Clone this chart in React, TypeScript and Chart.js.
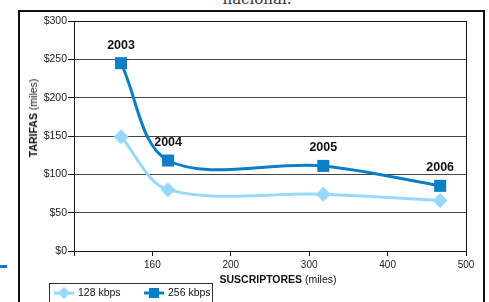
import React, { useEffect, useRef } from "react";
import { Chart, registerables } from "chart.js";

Chart.register(...registerables);

const years = ["2003", "2004", "2005", "2006"];
const subscribers = [144, 168, 318, 467]; // miles
const tarifa128 = [149, 80, 74, 66];
const tarifa256 = [245, 118, 111, 85];
const xTickValues = [120, 160, 200, 300, 400, 500];
const xTickLabels = ["", "160", "200", "300", "400", "500"];
const seriesNames = ["128 kbps", "256 kbps"];

const COLOR_128 = "#99d8fb";
const COLOR_256 = "#0a7fc6";

function toAxisPos(v: number): number {
  for (let i = 0; i < xTickValues.length - 1; i++) {
    const a = xTickValues[i];
    const b = xTickValues[i + 1];
    if (v <= b || i === xTickValues.length - 2) {
      return i + (v - a) / (b - a);
    }
  }
  return 0;
}

const yearLabelPlugin = {
  id: "yearLabels",
  afterDatasetsDraw(chart: any) {
    const ctx = chart.ctx;
    const meta = chart.getDatasetMeta(1);
    ctx.save();
    ctx.font = "bold 12.5px 'Liberation Sans', Arial, sans-serif";
    ctx.fillStyle = "#111";
    ctx.textAlign = "center";
    ctx.textBaseline = "middle";
    meta.data.forEach((pt: any, i: number) => {
      ctx.fillText(years[i], pt.x, pt.y - 18);
    });
    ctx.restore();
  },
  beforeDatasetsDraw(chart: any) {
    const { ctx, chartArea } = chart;
    ctx.save();
    ctx.strokeStyle = "#111";
    ctx.lineWidth = 1;
    ctx.strokeRect(
      Math.round(chartArea.left) + 0.5,
      Math.round(chartArea.top) + 0.5,
      Math.round(chartArea.right - chartArea.left),
      Math.round(chartArea.bottom - chartArea.top)
    );
    ctx.restore();
  },
};

export default function App() {
  const ref = useRef<HTMLCanvasElement>(null);

  useEffect(() => {
    if (!ref.current) return;
    const chart = new Chart(ref.current, {
      type: "line",
      data: {
        datasets: [
          {
            label: seriesNames[0],
            data: subscribers.map((s, i) => ({ x: toAxisPos(s), y: tarifa128[i] })),
            borderColor: COLOR_128,
            backgroundColor: COLOR_128,
            borderWidth: 3,
            pointStyle: "rectRot",
            pointRadius: 7.5,
            pointBorderWidth: 0,
            tension: 0.33,
          },
          {
            label: seriesNames[1],
            data: subscribers.map((s, i) => ({ x: toAxisPos(s), y: tarifa256[i] })),
            borderColor: COLOR_256,
            backgroundColor: COLOR_256,
            borderWidth: 3,
            pointStyle: "rect",
            pointRadius: 8.5,
            pointBorderWidth: 0,
            tension: 0.33,
          },
        ],
      },
      options: {
        animation: false,
        responsive: false,
        maintainAspectRatio: false,
        layout: { padding: { left: 0, right: 23, top: 21, bottom: 0 } },
        plugins: {
          legend: { display: false },
          tooltip: { enabled: false },
        },
        scales: {
          x: {
            type: "linear",
            min: 0,
            max: xTickValues.length - 1,
            afterBuildTicks: (scale: any) => {
              scale.ticks = xTickValues.map((_, i) => ({ value: i }));
            },
            afterFit: (scale: any) => {
              scale.height = 51;
              scale.paddingLeft = 0;
              scale.paddingRight = 0;
            },
            ticks: {
              callback: (v: any) => xTickLabels[Math.round(Number(v))] ?? "",
              font: { size: 10, family: "'Liberation Sans', Arial, sans-serif" },
              color: "#222",
              padding: 3,
              maxRotation: 0,
              autoSkip: false,
            },
            grid: {
              drawOnChartArea: false,
              drawTicks: true,
              tickLength: 5,
              color: "#111",
            },
            border: { display: true, color: "#111", width: 1 },
          },
          y: {
            min: 0,
            max: 300,
            ticks: {
              stepSize: 50,
              callback: (v: any) => "$" + v,
              font: { size: 10.5, family: "'Liberation Sans', Arial, sans-serif" },
              color: "#222",
              padding: 1,
            },
            afterFit: (scale: any) => {
              scale.width = 74;
              scale.paddingTop = 0;
              scale.paddingBottom = 0;
            },
            grid: {
              color: "#444",
              lineWidth: 1,
              drawTicks: true,
              tickLength: 6,
              tickColor: "#111",
            },
            border: { display: true, color: "#111", width: 1 },
          },
        },
      },
      plugins: [yearLabelPlugin],
    } as any);
    return () => chart.destroy();
  }, []);

  const font = "'Liberation Sans', Arial, sans-serif";

  return (
    <div
      style={{
        position: "absolute",
        left: 0,
        top: 0,
        width: 489,
        height: 302,
        overflow: "hidden",
        background: "#fff",
      }}
    >
      <div
        style={{
          position: "absolute",
          left: 0,
          width: 514,
          top: -8,
          textAlign: "center",
          fontFamily: "'DejaVu Serif', serif",
          fontSize: 15,
          color: "#333",
          lineHeight: "15px",
        }}
      >
        nacional.
      </div>
      <div
        style={{
          position: "absolute",
          left: 0,
          top: 265,
          width: 7,
          height: 3,
          background: COLOR_256,
        }}
      />
      <div
        style={{
          position: "absolute",
          left: 18,
          top: 10,
          width: 463,
          height: 310,
          border: "2px solid #111",
        }}
      />
      <canvas
        ref={ref}
        width={489}
        height={302}
        style={{ position: "absolute", left: 0, top: 0, width: 489, height: 302 }}
      />
      <div
        style={{
          position: "absolute",
          left: 33,
          top: 118,
          transform: "translate(-50%, -50%) rotate(-90deg)",
          whiteSpace: "nowrap",
          fontFamily: font,
          fontSize: 10.5,
          color: "#111",
        }}
      >
        <b>TARIFAS</b> (miles)
      </div>
      <div
        style={{
          position: "absolute",
          left: 278,
          top: 279,
          transform: "translate(-50%, -50%)",
          whiteSpace: "nowrap",
          fontFamily: font,
          fontSize: 10.5,
          color: "#111",
        }}
      >
        <b>SUSCRIPTORES</b> (miles)
      </div>
      <div
        style={{
          position: "absolute",
          left: 49,
          top: 283,
          width: 162,
          height: 30,
          border: "1px solid #333",
          fontFamily: font,
          fontSize: 10.5,
          color: "#111",
        }}
      >
        <svg width={162} height={20} style={{ position: "absolute", left: 0, top: 0 }}>
          <line x1={4} y1={9} x2={24} y2={9} stroke={COLOR_128} strokeWidth={3} />
          <polygon points="14,3 20,9 14,15 8,9" fill={COLOR_128} />
          <line x1={94} y1={9} x2={114} y2={9} stroke={COLOR_256} strokeWidth={3} />
          <rect x={99} y={4} width={10} height={10} fill={COLOR_256} />
        </svg>
        <span style={{ position: "absolute", left: 28, top: 2 }}>{seriesNames[0]}</span>
        <span style={{ position: "absolute", left: 118, top: 2 }}>{seriesNames[1]}</span>
      </div>
    </div>
  );
}
